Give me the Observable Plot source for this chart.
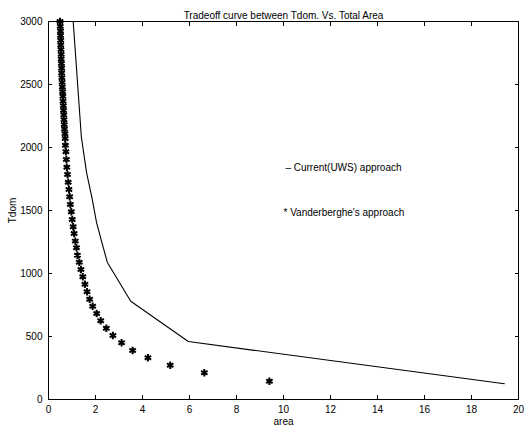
<!DOCTYPE html>
<html>
<head>
<meta charset="utf-8">
<script src="https://cdn.jsdelivr.net/npm/d3@7"></script>
<script src="https://cdn.jsdelivr.net/npm/@observablehq/plot@0.6"></script>
<style>
  html, body { margin: 0; padding: 0; background: white; }
</style>
</head>
<body>
<div id="chart"></div>
<script>
// Vanderberghe's approach (asterisks)
const starArea = [0.49,0.50,0.51,0.51,0.52,0.52,0.53,0.54,0.54,0.55,0.56,0.56,0.57,0.58,0.59,0.60,0.61,0.62,0.63,0.64,0.65,0.66,0.67,0.68,0.70,0.71,
  0.72,0.74,0.76,0.78,0.81,0.84,0.87,0.90,0.93,0.97,1.01,1.05,1.09,1.14,1.19,1.23,
  1.31,1.38,1.46,1.55,1.64,1.75,1.88,2.05,2.22,2.46,2.74,3.11,3.58,4.23,5.18,6.63,9.40];
const starTdom = [3000,2963,2925,2889,2852,2814,2777,2740,2703,2666,2629,2591,2554,2517,2480,2443,2406,2368,2332,2294,2257,2220,2183,2146,2109,2071,
  2018,1966,1905,1844,1786,1725,1667,1609,1548,1490,1429,1371,1317,1257,1204,1145,
  1090,1032,974,915,855,796,740,683,625,566,508,450,389,331,272,212,145];

// Current (UWS) approach (line)
const lineArea = [1.05, 1.40, 1.62, 1.85, 2.05, 2.50, 3.50, 5.95, 19.40];
const lineTdom = [3000, 2080, 1800, 1600, 1400, 1090, 780, 460, 125];

const xTicks = [0,2,4,6,8,10,12,14,16,18,20];
const yTicks = [0,500,1000,1500,2000,2500,3000];

const titleText = "Tradeoff curve between Tdom. Vs. Total Area";
const noteLabels = ["– Current(UWS) approach", "* Vanderberghe's approach"];
const noteArea = [10.08, 10.0];
const noteTdom = [1835, 1485];

const stars = starArea.map((a, i) => ({area: a, tdom: starTdom[i]}));
const line = lineArea.map((a, i) => ({area: a, tdom: lineTdom[i]}));
const notes = noteLabels.map((t, i) => ({text: t, area: noteArea[i], tdom: noteTdom[i]}));

const fmt = d3.format("d");
const blank = () => "";

const chart = Plot.plot({
  width: 530,
  height: 430,
  marginLeft: 48,
  marginRight: 12,
  marginTop: 21,
  marginBottom: 31,
  style: {fontFamily: "'Liberation Sans', Arial, sans-serif", fontSize: "10px", color: "black", background: "white"},
  x: {domain: [0, 20]},
  y: {domain: [0, 3000]},
  marks: [
    Plot.frame({stroke: "black", strokeWidth: 1}),
    // tick labels and axis titles
    Plot.axisX({ticks: xTicks, tickSize: 0, tickPadding: 6, tickFormat: fmt, label: "area", labelAnchor: "center", labelArrow: "none", labelOffset: 25}),
    Plot.axisY({ticks: yTicks, tickSize: 0, tickPadding: 6, tickFormat: fmt, label: "Tdom", labelAnchor: "center", labelArrow: "none", labelOffset: 40}),
    // inward tick marks on all four sides
    Plot.axisX({anchor: "bottom", ticks: xTicks, tickSize: 4, dy: -4, tickFormat: blank, label: null}),
    Plot.axisX({anchor: "top", ticks: xTicks, tickSize: 4, dy: 4, tickFormat: blank, label: null}),
    Plot.axisY({anchor: "left", ticks: yTicks, tickSize: 4, dx: 4, tickFormat: blank, label: null}),
    Plot.axisY({anchor: "right", ticks: yTicks, tickSize: 4, dx: -4, tickFormat: blank, label: null}),
    Plot.line(line, {x: "area", y: "tdom", stroke: "black", strokeWidth: 1.1}),
    Plot.dot(stars, {x: "area", y: "tdom", symbol: "asterisk", r: 3.5, stroke: "black", strokeWidth: 2}),
    Plot.text(notes, {x: "area", y: "tdom", text: "text", textAnchor: "start", fontSize: 10, fill: "black"}),
    Plot.text([titleText], {frameAnchor: "top", dy: -10, fontSize: 10, fill: "black"})
  ]
});
document.getElementById("chart").appendChild(chart);
</script>
</body>
</html>
